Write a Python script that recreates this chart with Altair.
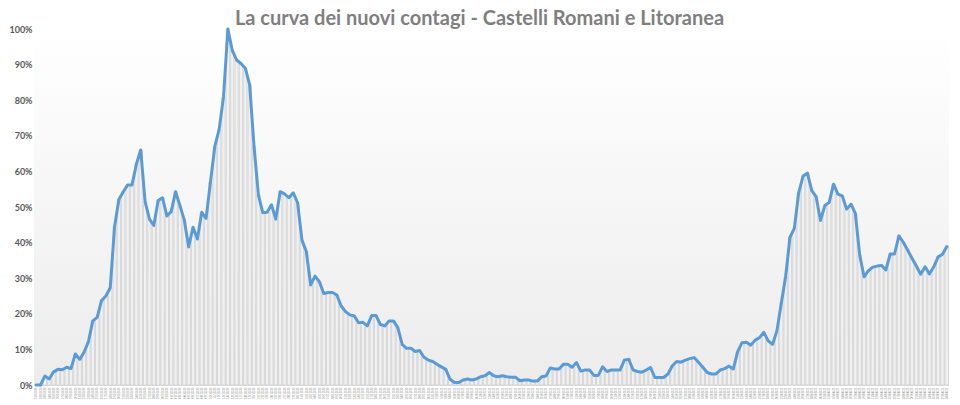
import altair as alt
import pandas as pd

# percentuale rispetto al picco (100 = massimo)
valori = [
    0, 0, 2.5, 1.7, 3.7, 4.4, 4.3, 5.0, 4.6, 8.7,
    7.2, 9.2, 12.2, 18, 19, 23.7, 25, 27.3, 44.5, 52.2,
    54.3, 56.2, 56.2, 62, 66, 51.5, 46.6, 44.8, 51.8, 52.6,
    47.5, 48.7, 54.3, 50.4, 46.3, 38.8, 44.3, 41, 48.5, 46.8,
    57, 67, 71.8, 81, 100, 94, 91.3, 90.3, 89, 84.3,
    67, 53.4, 48.4, 48.5, 50.6, 46.6, 54.3, 53.7, 52.6, 54,
    51.2, 40.7, 37.5, 28.1, 30.6, 29, 25.7, 26, 26, 25.3,
    22.2, 20.6, 19.7, 19.4, 17.5, 17.6, 16.6, 19.5, 19.5, 17,
    16.6, 18, 18, 16.1, 11.4, 10.3, 10.3, 9.4, 9.7, 7.8,
    7, 6.6, 5.8, 5.1, 4.4, 1.6, 0.7, 0.7, 1.4, 1.7,
    1.4, 1.7, 2.3, 2.6, 3.5, 2.6, 2.3, 2.6, 2.3, 2.2,
    2.2, 1.2, 1.4, 1.4, 1.1, 1.1, 2.3, 2.5, 4.8, 4.5,
    4.5, 5.8, 5.8, 5, 6.3, 3.9, 4.2, 4.2, 2.7, 2.7,
    5.1, 3.8, 4.2, 4.2, 4.2, 7, 7.2, 4.2, 3.8, 3.6,
    4.2, 4.9, 2.1, 2.1, 2.1, 3.1, 5.4, 6.6, 6.4, 7,
    7.4, 7.7, 6.4, 5, 3.5, 3.1, 3.1, 4.2, 4.6, 5.3,
    4.5, 9.4, 11.9, 12, 11.2, 12.6, 13.3, 14.8, 12.4, 11.4,
    15.2, 22.9, 30.4, 41.5, 44, 54, 58.7, 59.5, 54.6, 52.9,
    46.2, 50.4, 51.3, 56.4, 53.6, 53.1, 49.4, 50.8, 48.2, 36.5,
    30.4, 32.1, 33.1, 33.4, 33.6, 32.3, 36.8, 36.8, 41.9, 40.1,
    37.9, 35.6, 33.4, 31.1, 33.2, 31.2, 33.2, 36, 36.7, 38.9,
]

etichette = [d.strftime("%d/%m/%y") for d in
             pd.date_range("2020-10-01", periods=len(valori), freq="D")]

y_ticks = [0, 0.1, 0.2, 0.3, 0.4, 0.5, 0.6, 0.7, 0.8, 0.9, 1.0]

df = pd.DataFrame({"giorno": etichette, "quota": [v / 100 for v in valori]})

W, H = 915, 356

x_enc = alt.X(
    "giorno:N", sort=etichette, title=None,
    scale=alt.Scale(paddingInner=0.25, paddingOuter=0.12),
    axis=alt.Axis(labelAngle=-90, labelFontSize=3, labelColor="#8c8c8c",
                  labelPadding=2, ticks=False, domain=False, labelOverlap=False,
                  labelLimit=20),
)
y_enc = alt.Y(
    "quota:Q", title=None,
    scale=alt.Scale(domain=[0, 1], nice=False),
    axis=alt.Axis(values=y_ticks, format=".0%", grid=False, ticks=False, domain=False,
                  labelFont="Lato", labelFontSize=9, labelFontWeight="bold",
                  labelColor="#595959", labelPadding=2),
)

sfondo = alt.Chart(pd.DataFrame({"k": [0]})).mark_rect(
    fill=alt.Gradient(
        gradient="linear", x1=0, x2=0, y1=0, y2=1,
        stops=[alt.GradientStop(offset=0, color="#ffffff"),
               alt.GradientStop(offset=1, color="#ececec")],
    )
).encode(x=alt.value(0), x2=alt.value(W), y=alt.value(0), y2=alt.value(H))

barre = alt.Chart(df).mark_bar(
    fill="#f1f1f1", stroke="#cdcdcd", strokeWidth=0.7
).encode(x=x_enc, y=y_enc)

linea = alt.Chart(df).mark_line(
    color="#5b9bd5", strokeWidth=3, strokeJoin="round", strokeCap="round"
).encode(x=x_enc, y=y_enc)

chart = alt.layer(sfondo, barre, linea).properties(
    width=W, height=H,
    title=alt.TitleParams(
        "La curva dei nuovi contagi - Castelli Romani e Litoranea",
        font="Lato", fontSize=20, fontWeight="bold", color="#7f7f7f",
        anchor="middle", offset=-4, dx=-12,
    ),
    padding={"top": 1, "left": 0, "right": 0, "bottom": 0},
).configure_view(stroke=None).configure(background="#ffffff")

chart.save("out.html", embed_options={"renderer": "svg", "actions": False})
